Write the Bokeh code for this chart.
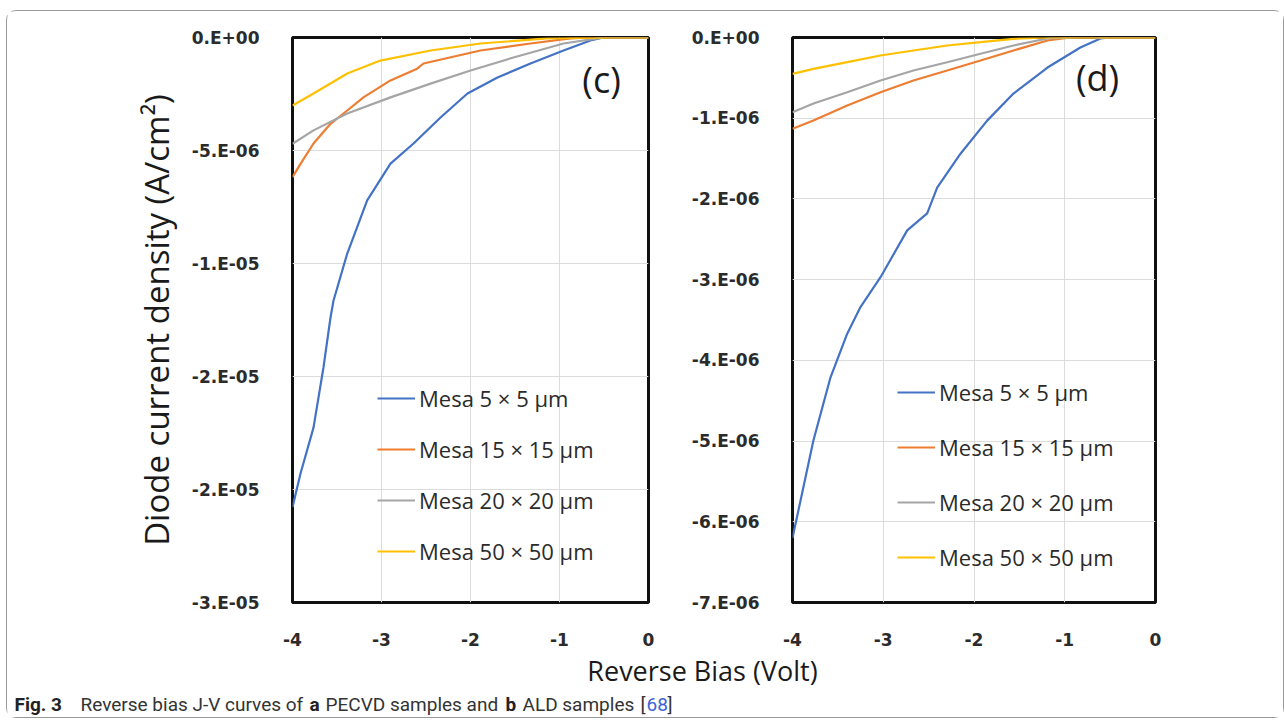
from bokeh.plotting import figure
from bokeh.models import Range1d, FixedTicker, Label
from bokeh.layouts import row, column
from bokeh.embed import file_html
from bokeh.resources import INLINE

# ---------------- data ----------------
series_names = ["Mesa 5 \u00d7 5 \u00b5m", "Mesa 15 \u00d7 15 \u00b5m",
                "Mesa 20 \u00d7 20 \u00b5m", "Mesa 50 \u00d7 50 \u00b5m"]
series_colors = ["#4472C4", "#ED7D31", "#A5A5A5", "#FFC000"]

x_ticks = [-4, -3, -2, -1, 0]
x_labels = ["-4", "-3", "-2", "-1", "0"]

# panel (c)  PECVD, J in A/cm2
c_blue_v = [-4.0, -3.91, -3.764, -3.652, -3.573, -3.539, -3.385, -3.161, -2.899, -2.64,
            -2.337, -2.034, -1.697, -1.326, -0.955, -0.652, -0.506, 0.0]
c_blue_j = [-2.078e-5, -1.929e-5, -1.726e-5, -1.46e-5, -1.239e-5, -1.164e-5, -9.56e-6,
            -7.21e-6, -5.58e-6, -4.69e-6, -3.54e-6, -2.48e-6, -1.77e-6, -1.15e-6,
            -5.75e-7, -1.3e-7, 0.0, 0.0]
c_orange_v = [-4.0, -3.91, -3.764, -3.573, -3.385, -3.199, -2.899, -2.6, -2.528, -1.888,
              -1.326, -0.876, -0.652, 0.0]
c_orange_j = [-6.18e-6, -5.59e-6, -4.69e-6, -3.82e-6, -3.23e-6, -2.64e-6, -1.9e-6,
              -1.38e-6, -1.15e-6, -5.75e-7, -2.65e-7, -4e-8, 0.0, 0.0]
c_grey_v = [-4.0, -3.764, -3.385, -2.899, -2.449, -1.999, -1.517, -0.955, -0.573, -0.5, 0.0]
c_grey_j = [-4.7e-6, -4.11e-6, -3.36e-6, -2.65e-6, -2.04e-6, -1.46e-6, -8.85e-7,
            -2.65e-7, -4e-8, 0.0, 0.0]
c_yellow_v = [-4.0, -3.764, -3.385, -3.012, -2.449, -1.888, -1.135, -0.416, 0.0]
c_yellow_j = [-3.01e-6, -2.48e-6, -1.59e-6, -1.02e-6, -5.75e-7, -2.65e-7, -4e-8, 0.0, 0.0]

c_y_ticks = [0.0, -5e-6, -1e-5, -1.5e-5, -2e-5, -2.5e-5]
c_y_labels = ["0.E+00", "-5.E-06", "-1.E-05", "-2.E-05", "-2.E-05", "-3.E-05"]

# panel (d)  ALD, J in A/cm2
d_blue_v = [-4.0, -3.912, -3.769, -3.581, -3.397, -3.251, -3.03, -2.736, -2.516, -2.406,
            -2.149, -1.855, -1.565, -1.19, -0.828, -0.606, -0.5, 0.0]
d_blue_j = [-6.2e-6, -5.74e-6, -4.99e-6, -4.21e-6, -3.67e-6, -3.34e-6, -2.97e-6, -2.39e-6,
            -2.18e-6, -1.86e-6, -1.44e-6, -1.03e-6, -6.94e-7, -3.72e-7, -1.24e-7,
            -1.2e-8, 0.0, 0.0]
d_orange_v = [-4.0, -3.769, -3.397, -3.03, -2.667, -2.295, -1.928, -1.565, -1.19, -0.937, 0.0]
d_orange_j = [-1.131e-6, -1.029e-6, -8.43e-7, -6.78e-7, -5.33e-7, -4.09e-7, -2.85e-7,
              -1.61e-7, -3.7e-8, 0.0, 0.0]
d_grey_v = [-4.0, -3.769, -3.397, -3.03, -2.667, -2.295, -1.928, -1.565, -1.19, -0.85, 0.0]
d_grey_j = [-9.26e-7, -8.18e-7, -6.78e-7, -5.33e-7, -4.09e-7, -3.06e-7, -2.02e-7,
            -9.9e-8, -1.2e-8, 0.0, 0.0]
d_yellow_v = [-4.0, -3.769, -3.397, -3.03, -2.667, -2.295, -1.928, -1.565, -1.19, 0.0]
d_yellow_j = [-4.5e-7, -3.88e-7, -3.06e-7, -2.23e-7, -1.61e-7, -9.9e-8, -5.8e-8,
              -1.6e-8, 0.0, 0.0]

d_y_ticks = [0.0, -1e-6, -2e-6, -3e-6, -4e-6, -5e-6, -6e-6, -7e-6]
d_y_labels = ["0.E+00", "-1.E-06", "-2.E-06", "-3.E-06", "-4.E-06", "-5.E-06",
              "-6.E-06", "-7.E-06"]

y_title = "Diode current density (A/cm\u00b2)"
x_title = "Reverse Bias (Volt)"

TICK_FONT = "DejaVu Sans"
TEXT_FONT = "Open Sans"


def make_panel(series, y_ticks, y_labels, ymin, frame_w, b_left, b_right, tag, tag_xy,
               legend_xy, legend_spacing, ylabel=None):
    p = figure(frame_width=frame_w, frame_height=565,
               min_border_left=b_left, min_border_right=b_right,
               min_border_top=26, min_border_bottom=50,
               x_range=Range1d(-4, 0), y_range=Range1d(ymin, 0),
               toolbar_location=None, output_backend="svg",
               background_fill_color="white", border_fill_color="white")
    for (vx, jy), name, col in zip(series, series_names, series_colors):
        p.line(vx, jy, line_color=col, line_width=2.2, legend_label=name)

    p.outline_line_color = "#111111"
    p.outline_line_width = 3
    p.grid.grid_line_color = "#dcdcdc"
    p.grid.grid_line_width = 1

    p.xaxis.ticker = FixedTicker(ticks=x_ticks)
    p.xaxis.major_label_overrides = {t: l for t, l in zip(x_ticks, x_labels)}
    p.yaxis.ticker = FixedTicker(ticks=y_ticks)
    p.yaxis.major_label_overrides = {t: l for t, l in zip(y_ticks, y_labels)}
    for ax in (p.xaxis[0], p.yaxis[0]):
        ax.axis_line_color = None
        ax.major_tick_line_color = None
        ax.minor_tick_line_color = None
        ax.major_label_text_font = TICK_FONT
        ax.major_label_text_font_style = "bold"
        ax.major_label_text_font_size = "17px"
        ax.major_label_text_color = "#2b2b2b"
    p.xaxis.major_label_standoff = 24
    p.yaxis.major_label_standoff = 27
    if ylabel:
        p.yaxis.axis_label = ylabel
        p.yaxis.axis_label_text_font = TEXT_FONT
        p.yaxis.axis_label_text_font_style = "normal"
        p.yaxis.axis_label_text_font_size = "33px"
        p.yaxis.axis_label_text_color = "#1a1a1a"
        p.yaxis.axis_label_standoff = 10

    lg = p.legend[0]
    lg.location = legend_xy
    lg.border_line_color = None
    lg.background_fill_alpha = 0
    lg.padding = 0
    lg.margin = 0
    lg.spacing = legend_spacing
    lg.label_height = 30
    lg.glyph_height = 30
    lg.glyph_width = 38
    lg.label_standoff = 4
    lg.label_text_font = TEXT_FONT
    lg.label_text_font_size = "22px"
    lg.label_text_color = "#2b2b2b"

    p.add_layout(Label(x=tag_xy[0], y=tag_xy[1], text=tag, text_align="center",
                       text_baseline="middle", text_font=TEXT_FONT,
                       text_font_size="36px", text_color="#1a1a1a"))
    return p


fig_c = make_panel(
    [(c_blue_v, c_blue_j), (c_orange_v, c_orange_j), (c_grey_v, c_grey_j),
     (c_yellow_v, c_yellow_j)],
    c_y_ticks, c_y_labels, -2.5e-5, 356, 285, 20, "(c)", (-0.528, -1.85e-6),
    (85, 36), 21, ylabel=y_title)

fig_d = make_panel(
    [(d_blue_v, d_blue_j), (d_orange_v, d_orange_j), (d_grey_v, d_grey_j),
     (d_yellow_v, d_yellow_j)],
    d_y_ticks, d_y_labels, -7e-6, 363, 124, 128, "(d)", (-0.639, -4.9e-7),
    (105, 30), 25)

# footer with shared x title and caption
FW, FH = 1276, 65
footer = figure(width=FW, height=FH, x_range=Range1d(0, FW), y_range=Range1d(0, FH),
                x_axis_type=None, y_axis_type=None, toolbar_location=None,
                output_backend="svg", min_border=0, outline_line_color=None,
                background_fill_color="white", border_fill_color="white")
footer.grid.visible = False
footer.add_layout(Label(x=695, y=47, text=x_title, text_align="center",
                        text_baseline="middle", text_font=TEXT_FONT,
                        text_font_size="27px", text_color="#1a1a1a"))

caption_parts = [
    ("Fig. 3", 7, "bold", "#222222"),
    ("Reverse bias J-V curves of", 73, "normal", "#333333"),
    ("a", 302, "bold", "#222222"),
    ("PECVD samples and", 318, "normal", "#333333"),
    ("b", 498, "bold", "#222222"),
    ("ALD samples", 515, "normal", "#333333"),
    ("[", 633, "normal", "#333333"),
    ("68", 639, "normal", "#3b62d6"),
    ("]", 660, "normal", "#333333"),
]
for txt, xx, style, colr in caption_parts:
    footer.add_layout(Label(x=xx, y=13, text=txt, text_align="left",
                            text_baseline="middle", text_font="Roboto",
                            text_font_style=style, text_font_size="19px",
                            text_color=colr))

layout = column(row(fig_c, fig_d), footer, margin=(10, 0, 0, 6),
                styles={"border": "1px solid #9a9a9a", "border-radius": "10px"})

open("out.html", "w").write(file_html(layout, INLINE))
